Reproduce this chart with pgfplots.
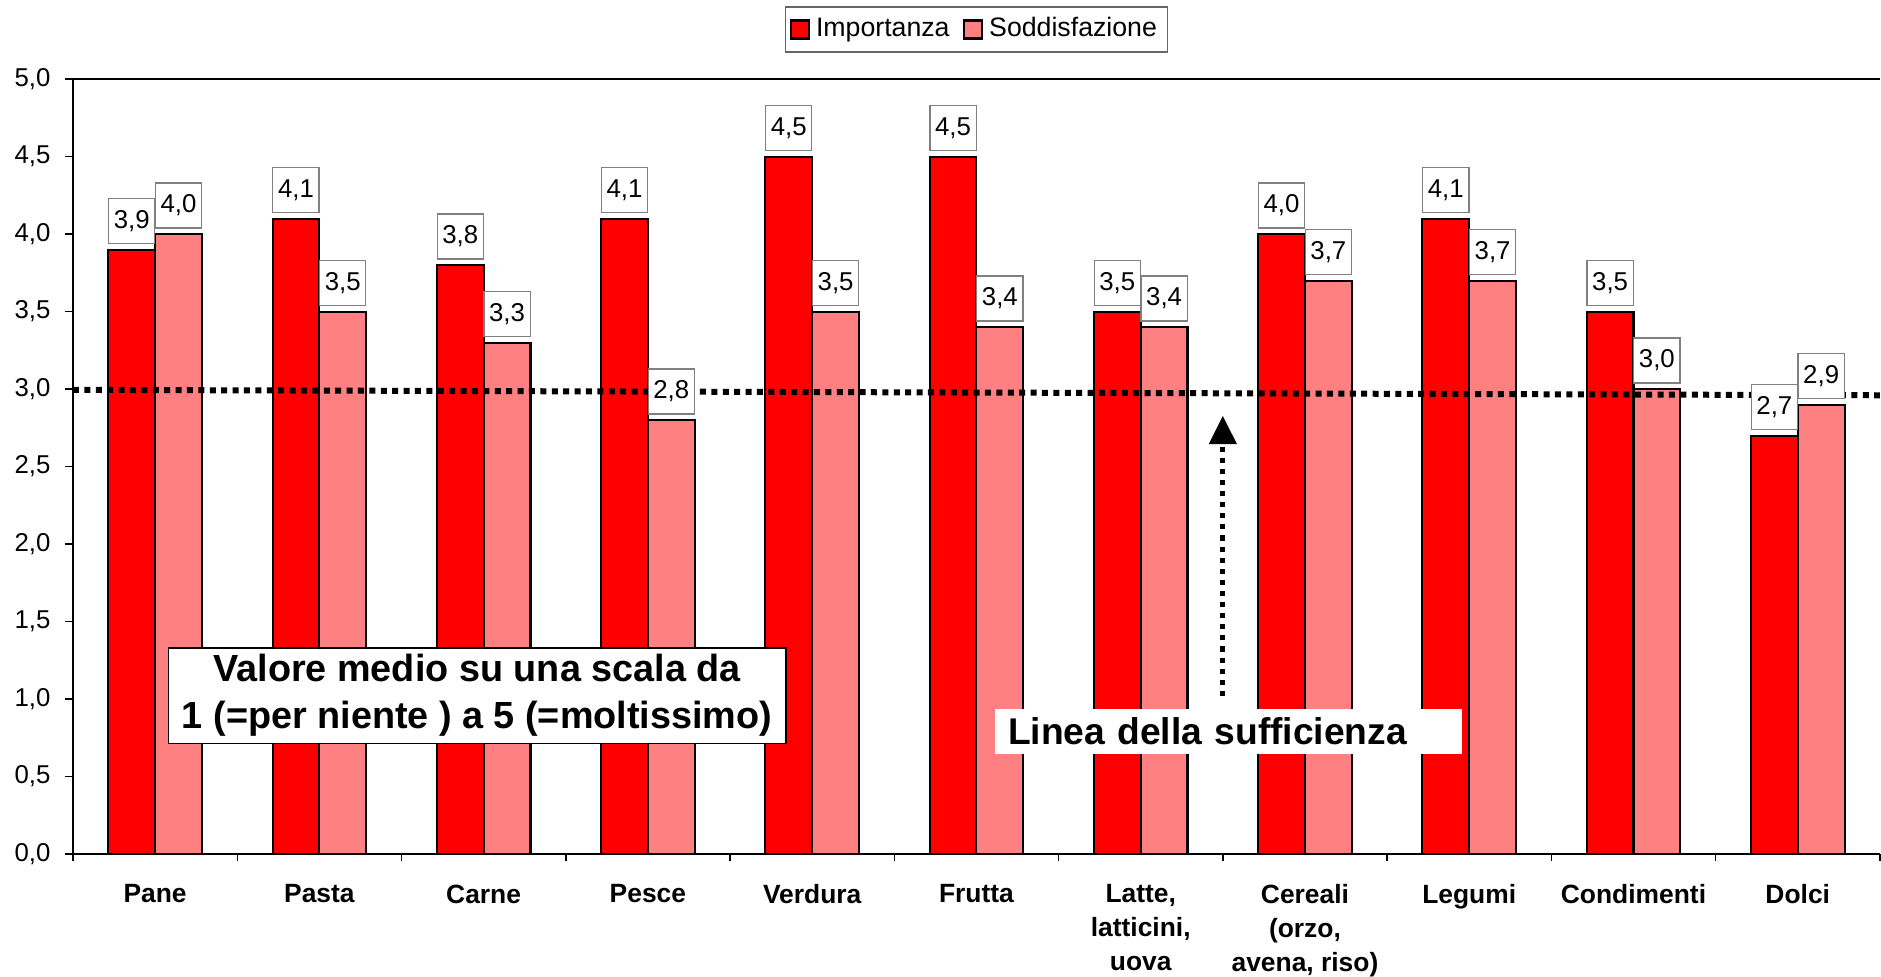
\documentclass[border=0pt]{standalone}
\usepackage{fontspec}
\setmainfont{Liberation Sans}
\usepackage{pgfplots}
\pgfplotsset{compat=1.18}
\usetikzlibrary{arrows.meta}
\definecolor{imp}{HTML}{FF0000}
\definecolor{sod}{HTML}{FF8080}

\begin{document}
\begin{tikzpicture}
\begin{axis}[
  scale only axis, width=602.3pt, height=258.3pt,
  ybar, bar width=0.285,
  xmin=-0.5, xmax=10.5, ymin=0, ymax=5,
  clip=false,
  axis x line*=bottom, axis y line*=left,
  axis line style={line width=0.5pt, -},
  tick align=outside,
  major tick length=2.7pt, minor tick length=2.5pt,
  tick style={black, line width=0.5pt},
  xtick={0,...,10},
  minor xtick={-0.5,0.5,...,10.5},
  major x tick style={draw=none},
  xticklabels={Pane,Pasta,Carne,Pesce,Verdura,Frutta,{Latte,\\latticini,\\uova},{Cereali\\(orzo,\\avena, riso)},Legumi,Condimenti,Dolci},
  xticklabel style={align=center, font=\bfseries\fontsize{8.8}{11.2}\selectfont, yshift=-4pt},
  ytick={0,0.5,...,5},
  yticklabel style={font=\fontsize{8.6}{10}\selectfont, xshift=-1.3pt},
  /pgf/number format/.cd, use comma, fixed, fixed zerofill, precision=1, assume math mode=true, /pgfplots/.cd,
  nodes near coords,
  nodes near coords style={draw=gray, line width=0.4pt, fill=white, text=black,
    font=\fontsize{8.6}{10}\selectfont, minimum width=15.4pt, minimum height=15pt,
    inner sep=0pt, anchor=south, yshift=1.8pt},
  legend style={at={(0.5,1)}, anchor=south, yshift=8.8pt, draw=black!60, line width=0.5pt,
    font=\fontsize{8.9}{10}\selectfont, legend columns=2, inner sep=1.5pt,
    /tikz/every even column/.append style={column sep=2.5pt}},
  legend image code/.code={\draw[#1, line width=0.7pt] (0pt,-3pt) rectangle (6pt,3pt);},
]
\addplot[fill=imp, draw=black, line width=0.7pt, bar shift=-0.1425] coordinates {
  (0,3.9) (1,4.1) (2,3.8) (3,4.1) (4,4.5) (5,4.5) (6,3.5) (7,4.0) (8,4.1) (9,3.5) (10,2.7)};
\addlegendentry{Importanza}
\addplot[fill=sod, draw=black, line width=0.7pt, bar shift=0.1425] coordinates {
  (0,4.0) (1,3.5) (2,3.3) (3,2.8) (4,3.5) (5,3.4) (6,3.4) (7,3.7) (8,3.7) (9,3.0) (10,2.9)};
\addlegendentry{Soddisfazione}

% top border of the plot area
\draw[line width=0.5pt] (rel axis cs:0,1) -- (rel axis cs:1,1);
% sufficiency line
\draw[line width=2pt, dash pattern=on 2pt off 1.8pt] (axis cs:-0.5,2.995) -- (axis cs:10.5,2.96);
% arrow
\draw[line width=1.7pt, dash pattern=on 1.7pt off 2pt] (axis cs:6.5,1.02) -- (axis cs:6.5,2.645);
\fill (axis cs:6.5,2.826) -- ([xshift=-4.7pt]axis cs:6.5,2.645) -- ([xshift=4.7pt]axis cs:6.5,2.645) -- cycle;

\node[draw=black, line width=0.6pt, fill=white, minimum width=205.7pt, minimum height=31.7pt, inner sep=0pt]
  at (axis cs:1.96,1.02)
  {\fontsize{12.6}{15.6}\selectfont\bfseries\begin{tabular}{@{}c@{}}Valore medio su una scala da\\1 (=per niente ) a 5 (=moltissimo)\end{tabular}};
\node[fill=white, anchor=west, inner xsep=4.3pt, inner ysep=0pt, text width=147.1pt, align=left,
  minimum height=15pt, font=\bfseries\fontsize{12.4}{14}\selectfont]
  at (axis cs:5.11,0.79) {Linea della sufficienza};
\end{axis}
\pgfresetboundingbox
\path[use as bounding box] (-24.33pt,-41pt) rectangle (602.67pt,284.67pt);
\end{tikzpicture}
\end{document}
